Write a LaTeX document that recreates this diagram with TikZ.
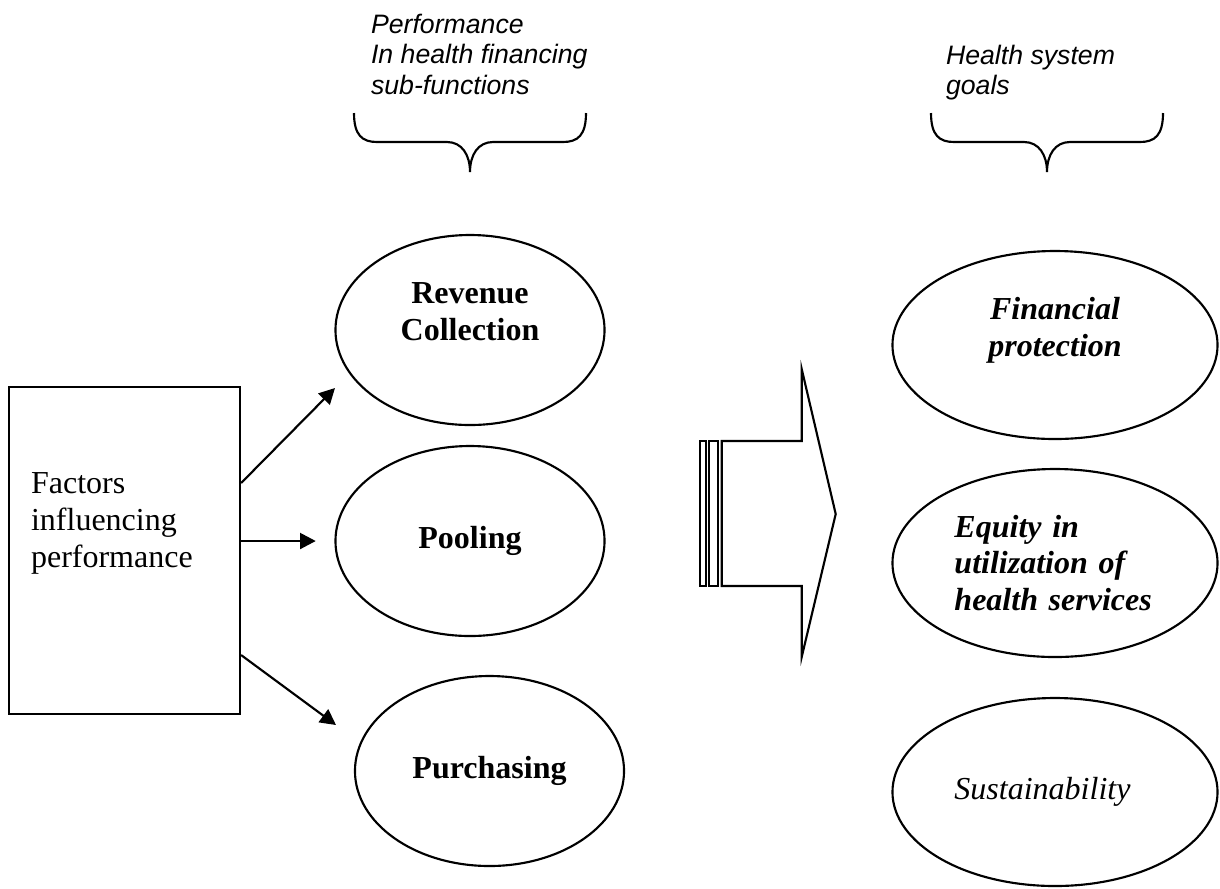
\documentclass[tikz,border=0pt]{standalone}
\usepackage{fontspec}
\setmainfont{Liberation Serif}
\newfontfamily\headfont{Liberation Sans}
\usetikzlibrary{shapes.geometric,arrows.meta}

\begin{document}
\begin{tikzpicture}[x=0.375pt, y=-0.375pt, line width=0.8pt,
    func/.style={draw, ellipse, minimum width=100.9pt, minimum height=71.25pt, inner sep=0pt,
        align=center, font=\fontsize{12}{13.8}\selectfont\bfseries},
    goal/.style={draw, ellipse, minimum width=121.9pt, minimum height=70.5pt, inner sep=0pt,
        text width=75.4pt, font=\fontsize{12}{13.8}\selectfont\bfseries\itshape},
    head/.style={anchor=north west, inner sep=0pt, align=left,
        font=\headfont\itshape\fontsize{10}{11.5}\selectfont},
    flow/.style={-{Triangle[length=5.9pt,width=6pt]}}]

    \useasboundingbox (0,0) rectangle (1220,888);

    % Titoli
    \node[head] (perfhead) at (370,12.6) {Performance\\In health financing\\sub-functions};
    \node[head] (goalhead) at (945,43.6) {Health system\\goals};

    % Graffe
    \foreach \bx in {354,931}
        \draw (\bx,113) .. controls +(0,22) and +(-15,0) .. ++(23,29) -- ++(70,0)
            .. controls +(15,0) and +(0,-17) .. ++(23,30)
            .. controls +(0,-17) and +(-15,0) .. ++(23,-30) -- ++(70,0)
            .. controls +(15,0) and +(0,22) .. ++(23,-29);

    % Fattori
    \node[draw, minimum width=86.5pt, minimum height=122.6pt, inner sep=0pt] (factors) at (124.7,550.5) {};
    \node[anchor=north west, inner sep=0pt, align=left, font=\fontsize{12}{13.8}\selectfont]
        (factorstext) at (30,471.8) {Factors\\influencing\\performance};

    % Sotto-funzioni
    \node[func] (revenue) at (470,330) {Revenue\\Collection\\\mbox{}};
    \node[func] (pooling) at (470,541) {Pooling};
    \node[func] (purchasing) at (489.5,771) {Purchasing};

    % Obiettivi
    \node[goal, align=center] (financial) at (1055,345) {Financial\\protection\\\mbox{}};
    \node[goal, align=left] (equity) at (1055,563) {Equity in\\utilization of\\health services};
    \node[goal, align=left, font=\fontsize{12}{13.8}\selectfont\itshape] (sustain) at (1055,792) {Sustainability};

    % Frecce
    \coordinate (revtip) at (335,388);
    \coordinate (purtip) at (336,725);
    \draw[flow] ([yshift=25.3pt]factors.east) -- (revtip);
    \draw[flow] (factors.east |- pooling.west) -- ([xshift=-7pt]pooling.west);
    \draw[flow] ([yshift=-39.2pt]factors.east) -- (purtip);

    % Freccia grande
    \draw (721.7,441) -- (801.7,441) -- (801.7,369) -- (835.7,514) -- (801.7,657)
        -- (801.7,586) -- (721.7,586) -- cycle;
    \draw (700,441) rectangle (705.7,586);
    \draw (709,441) rectangle (717.7,586);

\end{tikzpicture}
\end{document}
